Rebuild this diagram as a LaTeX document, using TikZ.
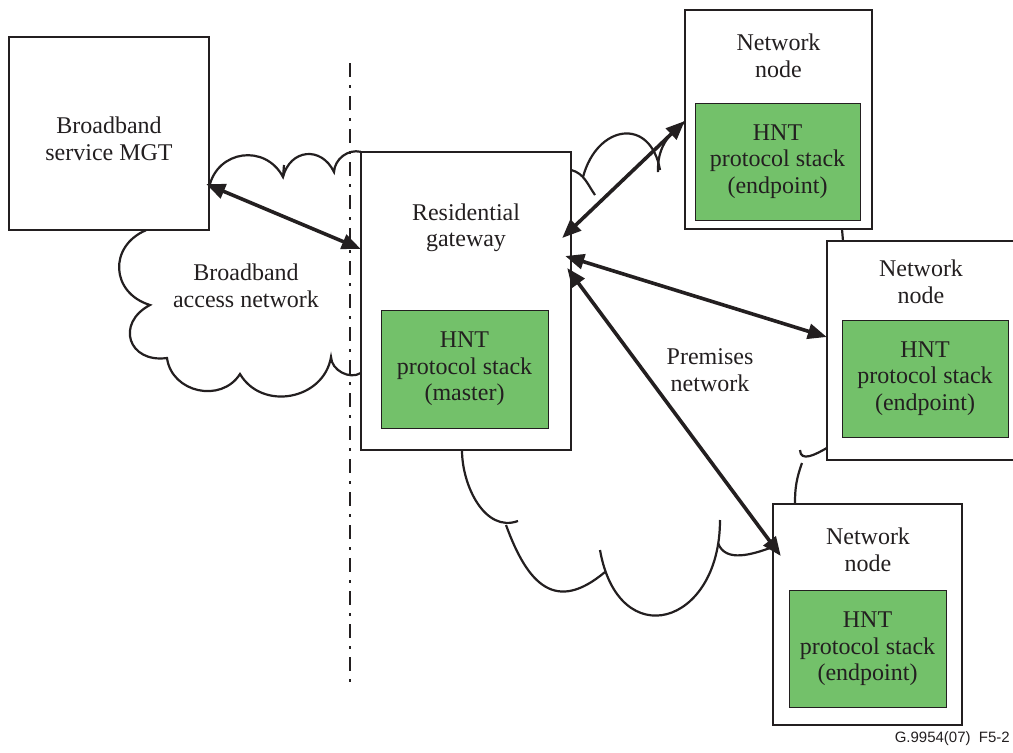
\documentclass[tikz,border=0pt]{standalone}
\usepackage{fontspec}
\setmainfont{Liberation Serif}
\setsansfont{Liberation Sans}
\usetikzlibrary{arrows.meta,calc}
\definecolor{ink}{RGB}{35,31,32}
\definecolor{hntgreen}{RGB}{115,193,106}
\begin{document}
\begin{tikzpicture}[x=1pt,y=-1pt,
  box/.style={draw=ink,line width=2.4pt,fill=white,inner sep=0pt},
  stackbox/.style={draw=ink,line width=0.9pt,fill=hntgreen,inner sep=0pt},
  txt/.style={text=ink,align=center,inner sep=0pt,font=\fontsize{24}{26.5}\selectfont},
  cloudline/.style={draw=ink,line width=2.2pt},
  link/.style={draw=ink,line width=3.6pt,
    {Triangle[length=19pt,width=15pt]}-{Triangle[length=19pt,width=15pt]}},
  divider/.style={draw=ink,line width=2pt,dash pattern=on 14pt off 8pt on 3pt off 8pt}]
\useasboundingbox (0,0) rectangle (1013,753);

% box frames, named first so the clouds can attach to them
\path (109,133.5) node[minimum width=200pt,minimum height=193pt] (bsm) {};
\path (466,301)   node[minimum width=210pt,minimum height=298pt] (rg) {};
\path (778.5,119.5) node[minimum width=187pt,minimum height=219pt] (n1) {};
\path (920.5,350.5) node[minimum width=187pt,minimum height=219pt] (n2) {};
\path (867.5,614.5) node[minimum width=189pt,minimum height=221pt] (n3) {};

% divider between access side and premises side
\coordinate (divtop) at (350,63);
\coordinate (divbot) at (350,685);
\draw[divider] (divtop) -- (divbot);

% broadband access network cloud
\draw[cloudline] (bsm.east |- 0,187)
   to[bend left=70,looseness=1.3] (283,177)
   to[bend left=70,looseness=1.45] (334,172)
   to[bend left=50] (rg.north west);
\draw[cloudline] (rg.west |- 0,373)
   to[bend left=60] (331,357)
   to[bend left=70,looseness=1.2] (240,374)
   to[bend left=70,looseness=1.2] (167,358)
   to[bend left=80,looseness=1.8] (150,305)
   to[bend left=70,looseness=1.4] (bsm.south -| 146,0);
\draw[cloudline] (283,177) -- (284,165);

% premises network cloud
\draw[cloudline] (rg.south -| 462,0) to[out=-90,in=200] (518,521);
\draw[cloudline] (506,525) to[out=-70,in=220,looseness=1.5] (605,572);
\draw[cloudline] (600,550) to[out=-80,in=-90,looseness=2.2] (720,520);
\draw[cloudline] (718,543) to[out=-70,in=200] (n3.west |- 0,547);
\draw[cloudline] (n3.north -| 795,0) to[bend left=10] (802,463);
\draw[cloudline] (800,450) to[out=-88,in=-150,looseness=1.2] (n2.west |- 0,448);
\draw[cloudline] (n2.north -| 843,0) -- (n1.south -| 842,0);
\draw[cloudline] (rg.east |- 0,170) to[out=-15,in=125] (595,195);
\draw[cloudline] (660,170) to[out=100,in=75,looseness=1.8] (583,177);
\draw[cloudline] (658,172) to[out=92,in=215] (n1.west |- 0,122);

% boxes
\node[box,minimum width=200pt,minimum height=193pt] at (bsm) {};
\node[box,minimum width=210pt,minimum height=298pt] at (rg) {};
\node[box,minimum width=187pt,minimum height=219pt] at (n1) {};
\node[box,minimum width=187pt,minimum height=219pt] at (n2) {};
\node[box,minimum width=189pt,minimum height=221pt] at (n3) {};

% protocol stacks
\node[stackbox,minimum width=167pt,minimum height=118pt] (srg) at (464.5,369) {};
\node[stackbox,minimum width=165pt,minimum height=117pt] (s1) at (777.5,161.5) {};
\node[stackbox,minimum width=166pt,minimum height=117pt] (s2) at (925,378.5) {};
\node[stackbox,minimum width=157pt,minimum height=117pt] (s3) at (867.5,649) {};

% labels
\node[txt] (tbsm) at (109,139) {Broadband\\service MGT};
\node[txt] (trg) at (466,228) {Residential\\gateway};
\node[txt] (tsrg) at (srg) {HNT\\protocol stack\\(master)};
\node[txt] (tn1) at (778.5,56) {Network\\node};
\node[txt] (ts1) at (s1) {HNT\\protocol stack\\(endpoint)};
\node[txt] (tn2) at (921,282) {Network\\node};
\node[txt] (ts2) at (s2) {HNT\\protocol stack\\(endpoint)};
\node[txt] (tn3) at (868,550) {Network\\node};
\node[txt] (ts3) at (s3) {HNT\\protocol stack\\(endpoint)};
\node[txt] (tban) at (246,286) {Broadband\\access network};
\node[txt] (tpn) at (710,370) {Premises\\network};
\node[text=ink,anchor=base east,inner sep=0pt,font=\sffamily\fontsize{15}{18}\selectfont]
  (fig) at (1010,742) {G.9954(07)\ \ F5-2};

% links
\draw[link] ($(bsm.east |- 0,184)+(-3,0)$) -- (rg.west |- 0,249);
\draw[link] ($(rg.east |- 0,238)+(-9,0)$) -- (n1.west |- 0,121);
\draw[link] ($(rg.east |- 0,256)+(-6,0)$) -- (n2.west |- 0,337);
\draw[link] ($(rg.east |- 0,268)+(-4,0)$) -- ($(n3.west |- 0,556)+(8,0)$);
\end{tikzpicture}
\end{document}
